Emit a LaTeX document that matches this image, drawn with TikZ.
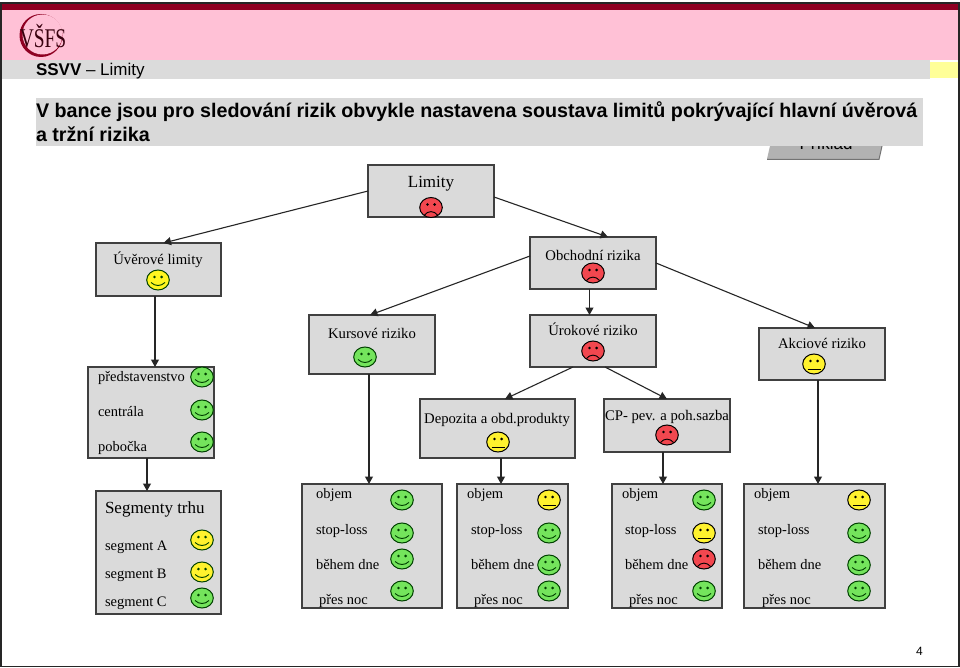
\documentclass[tikz,border=0pt]{standalone}
\usepackage{fontspec}
\setmainfont{Liberation Serif}
\setsansfont{Liberation Sans}
\usepackage{tikz}
\usetikzlibrary{positioning, arrows.meta}

\definecolor{bandred}{HTML}{8F0022}
\definecolor{bandpink}{HTML}{FFC1D6}
\definecolor{bandgray}{HTML}{DBDBDB}
\definecolor{bandyellow}{HTML}{FFFF99}
\definecolor{boxgray}{HTML}{DADADA}
\definecolor{faceGreen}{HTML}{74E45C}
\definecolor{faceYellow}{HTML}{FFF22E}
\definecolor{faceRed}{HTML}{F2474F}

\tikzset{
    pics/happy/.style={code={
        \path[draw=black!75!green, line width=1pt, fill=#1] (0,0) ellipse [x radius=11.3pt, y radius=10pt];
        \fill[black!75!green] (-3.6,-3) circle [radius=1.4pt] (3.6,-3) circle [radius=1.4pt];
        \draw[black!75!green, line width=0.9pt] (-7,2.5) .. controls (-3,6.5) and (3,6.5) .. (7,2.5);
    }},
    pics/flat/.style={code={
        \path[draw=black, line width=1pt, fill=#1] (0,0) ellipse [x radius=11.3pt, y radius=10pt];
        \fill (-3.6,-3) circle [radius=1.4pt] (3.6,-3) circle [radius=1.4pt];
        \draw[line width=0.9pt] (-6.5,5) -- (6.5,5);
    }},
    pics/sad/.style={code={
        \path[draw=black, line width=1pt, fill=#1] (0,0) ellipse [x radius=11.3pt, y radius=10pt];
        \fill (-3.6,-3) circle [radius=1.4pt] (3.6,-3) circle [radius=1.4pt];
        \draw[line width=0.9pt] (-6.5,7.5) .. controls (-3,3) and (3,3) .. (6.5,7.5);
    }}
}

\begin{document}
\begin{tikzpicture}[
        x=1pt, y=-1pt,
        >={Triangle[length=7.5pt, width=8pt]},
        every node/.style={inner sep=0pt, outer sep=0pt},
        box/.style={draw=black!75, line width=1.1pt, fill=boxgray},
        link/.style={->, line width=1.1pt, draw=black!85},
        boxname/.style={anchor=base, font=\fontsize{14.7}{17}\selectfont},
        txt/.style={anchor=base west, font=\fontsize{14.5}{17}\selectfont}
    ]
    \useasboundingbox (0,0) rectangle (960,668);
    \fill[white] (0,0) rectangle (960,668);

    % --- Header ---
    \fill[bandpink] (1,10) rectangle (959,60);
    \fill[bandred] (1,3) rectangle (959,10);
    \fill[bandgray] (1,60) rectangle (930,79);
    \fill[bandyellow] (930,62) rectangle (959,78);
    \fill[bandred] (41,35.5) circle [radius=21.5pt];
    \fill[bandpink] (42.5,34.5) circle [radius=20pt];
    \node[anchor=base, xscale=0.72, text=black!60!bandred, font=\fontsize{27}{27}\selectfont] (Logo) at (43,48) {VŠFS};
    \node[anchor=base west, font=\sffamily\fontsize{17}{19}\selectfont] (Head) at (36,75.5) {\textbf{SSVV} -- Limity};

    % --- Button hidden behind the title ---
    \fill[black!30] (770,146) -- (882,146) -- (879,159) -- (767,159) -- cycle;
    \draw[black!55, line width=1pt] (767,159.5) -- (879,159.5) -- (882,146);
    \node[anchor=base, font=\sffamily\fontsize{17}{20}\selectfont] (Button) at (826,150) {Příklad};

    % --- Title ---
    \fill[black!15] (36,98) rectangle (923,146);
    \node[anchor=base west, font=\sffamily\bfseries\fontsize{19.7}{24}\selectfont] (Title1) at (36,118) {V bance jsou pro sledování rizik obvykle nastavena soustava limitů pokrývající hlavní úvěrová};
    \node[anchor=base west, font=\sffamily\bfseries\fontsize{19.7}{24}\selectfont] (Title2) at (36,142) {a tržní rizika};

    % --- Boxes ---
    \node[box, minimum width=126pt, minimum height=52pt] (Limity) at (431,191) {};
    \node[box, minimum width=125pt, minimum height=53pt] (Uver) [below left=26pt and 147pt of Limity] {};
    \node[box, minimum width=126pt, minimum height=52pt] (Obchod) [below right=20pt and 36pt of Limity] {};
    \node[box, minimum width=126pt, minimum height=52pt] (Urok) [below=26pt of Obchod] {};
    \node[box, minimum width=126pt, minimum height=59pt] (Kurs) [below left=26pt and 95pt of Obchod] {};
    \node[box, minimum width=126pt, minimum height=52pt] (Akcie) [below right=39pt and 103pt of Obchod] {};
    \node[box, minimum width=126pt, minimum height=91pt] (Pobocky) [below=71pt of Uver, xshift=-7.5pt] {};
    \node[box, minimum width=125pt, minimum height=123pt] (Segmenty) [below=33pt of Pobocky, xshift=7.5pt] {};
    \node[box, minimum width=155pt, minimum height=59pt] (Depozita) [below=32pt of Urok, xshift=-95.5pt] {};
    \node[box, minimum width=126pt, minimum height=53pt] (Sazba) [below=32pt of Urok, xshift=74pt] {};
    \node[box, minimum width=140pt, minimum height=124pt] (ObjKurs) [below=110pt of Kurs] {};
    \node[box, minimum width=111pt, minimum height=124pt] (ObjDep) [below=26pt of Depozita, xshift=15pt] {};
    \node[box, minimum width=110pt, minimum height=124pt] (ObjSaz) [below=32pt of Sazba] {};
    \node[box, minimum width=141pt, minimum height=124pt] (ObjAkc) [below=104pt of Akcie, xshift=-7.5pt] {};

    % --- Names and faces of the upper boxes ---
    \node[boxname, font=\fontsize{17}{20}\selectfont] (tLimity) at (431,188) {Limity};
    \pic at (431,207.5) {sad=faceRed};
    \node[boxname] (tUver) at (158,264) {Úvěrové limity};
    \pic at (158,280) {happy=faceYellow!70!yellow};
    \node[boxname] (tObchod) at (593,260) {Obchodní rizika};
    \pic at (593,273) {sad=faceRed};
    \node[boxname] (tKurs) at (372,338) {Kursové riziko};
    \pic at (365,357) {happy=faceGreen};
    \node[boxname] (tUrok) at (593,335) {Úrokové riziko};
    \pic at (593,351) {sad=faceRed};
    \node[boxname] (tAkcie) at (822,348) {Akciové riziko};
    \pic at (814,364) {flat=faceYellow};
    \node[boxname] (tDepozita) at (497,423) {Depozita a obd.produkty};
    \pic at (498,442) {flat=faceYellow};
    \node[boxname] (tSazba) at (667,420) {CP- pev. a poh.sazba};
    \pic at (667,435) {sad=faceRed};

    % --- Left column ---
    \node[txt] (tPred) at (98,381) {představenstvo};
    \pic at (202,377) {happy=faceGreen};
    \node[txt] (tCentr) at (98,416) {centrála};
    \pic at (202,410) {happy=faceGreen};
    \node[txt] (tPob) at (98,451) {pobočka};
    \pic at (202,442) {happy=faceGreen};
    \node[txt, font=\fontsize{17}{20}\selectfont] (tSeg) at (105,513) {Segmenty trhu};
    \node[txt] (tSegA) at (105,550) {segment A};
    \pic at (202,540) {happy=faceYellow};
    \node[txt] (tSegB) at (105,578) {segment B};
    \pic at (202,572) {happy=faceYellow};
    \node[txt] (tSegC) at (105,606) {segment C};
    \pic at (202,598) {happy=faceGreen};

    % --- Kursove riziko limits ---
    \node[txt] (k1) at ([shift={(14,14.5)}]ObjKurs.north west) {objem};
    \node[txt] (k2) at ([shift={(14,50)}]ObjKurs.north west) {stop-loss};
    \node[txt] (k3) at ([shift={(14,85)}]ObjKurs.north west) {během dne};
    \node[txt] (k4) at ([shift={(17,120.5)}]ObjKurs.north west) {přes noc};
    \pic at ([shift={(100,16)}]ObjKurs.north west) {happy=faceGreen};
    \pic at ([shift={(100,49)}]ObjKurs.north west) {happy=faceGreen};
    \pic at ([shift={(100,75)}]ObjKurs.north west) {happy=faceGreen};
    \pic at ([shift={(100,107)}]ObjKurs.north west) {happy=faceGreen};

    % --- Depozita limits ---
    \node[txt] (d1) at ([shift={(10,14.5)}]ObjDep.north west) {objem};
    \node[txt] (d2) at ([shift={(14,50)}]ObjDep.north west) {stop-loss};
    \node[txt] (d3) at ([shift={(14,85)}]ObjDep.north west) {během dne};
    \node[txt] (d4) at ([shift={(17,120.5)}]ObjDep.north west) {přes noc};
    \pic at ([shift={(92,16)}]ObjDep.north west) {flat=faceYellow};
    \pic at ([shift={(92,49)}]ObjDep.north west) {happy=faceGreen};
    \pic at ([shift={(92,81)}]ObjDep.north west) {happy=faceGreen};
    \pic at ([shift={(92,107)}]ObjDep.north west) {happy=faceGreen};

    % --- CP limits ---
    \node[txt] (c1) at ([shift={(10,14.5)}]ObjSaz.north west) {objem};
    \node[txt] (c2) at ([shift={(13,50)}]ObjSaz.north west) {stop-loss};
    \node[txt] (c3) at ([shift={(13,85)}]ObjSaz.north west) {během dne};
    \node[txt] (c4) at ([shift={(17,120.5)}]ObjSaz.north west) {přes noc};
    \pic at ([shift={(92,16)}]ObjSaz.north west) {happy=faceGreen};
    \pic at ([shift={(92,49)}]ObjSaz.north west) {flat=faceYellow};
    \pic at ([shift={(92,75)}]ObjSaz.north west) {sad=faceRed};
    \pic at ([shift={(92,107)}]ObjSaz.north west) {happy=faceGreen};

    % --- Akcie limits ---
    \node[txt] (a1) at ([shift={(10,14.5)}]ObjAkc.north west) {objem};
    \node[txt] (a2) at ([shift={(14,50)}]ObjAkc.north west) {stop-loss};
    \node[txt] (a3) at ([shift={(14,85)}]ObjAkc.north west) {během dne};
    \node[txt] (a4) at ([shift={(18,120.5)}]ObjAkc.north west) {přes noc};
    \pic at ([shift={(115,16)}]ObjAkc.north west) {flat=faceYellow};
    \pic at ([shift={(115,49)}]ObjAkc.north west) {happy=faceGreen};
    \pic at ([shift={(115,81)}]ObjAkc.north west) {happy=faceGreen};
    \pic at ([shift={(115,107)}]ObjAkc.north west) {happy=faceGreen};

    % --- Connectors ---
    \draw[link] (Limity.west) -- ([xshift=5pt]Uver.north);
    \draw[link] ([yshift=-6pt]Limity.east) -- ([xshift=15pt]Obchod.north);
    \draw[link] ([yshift=7pt]Obchod.west) -- ([xshift=-2pt]Kurs.north);
    \draw[link] ([xshift=-3.5pt]Obchod.south) -- ([xshift=-3.5pt]Urok.north);
    \draw[link] ([yshift=0pt]Obchod.east) -- ([xshift=-7pt]Akcie.north);
    \draw[link] ([xshift=-3.5pt]Uver.south) -- ([xshift=4pt]Pobocky.north);
    \draw[link] ([xshift=-4pt]Pobocky.south) -- ([xshift=-11.5pt]Segmenty.north);
    \draw[link] ([xshift=-20pt]Urok.south) -- ([xshift=7.5pt]Depozita.north);
    \draw[link] ([xshift=12pt]Urok.south) -- (Sazba.north);
    \draw[link] ([xshift=-3pt]Kurs.south) -- ([xshift=-3pt]ObjKurs.north);
    \draw[link] ([xshift=3.5pt]Depozita.south) -- ([xshift=-11.5pt]ObjDep.north);
    \draw[link] ([xshift=-4pt]Sazba.south) -- ([xshift=-4pt]ObjSaz.north);
    \draw[link] ([xshift=-4pt]Akcie.south) -- ([xshift=3.5pt]ObjAkc.north);

    % --- Frame and page number ---
    \node[anchor=base, font=\sffamily\fontsize{12}{14}\selectfont] (Page) at (919.5,655) {4};
    \draw[black!85, line width=1.2pt] (1,3) rectangle (959,666.5);
\end{tikzpicture}
\end{document}
